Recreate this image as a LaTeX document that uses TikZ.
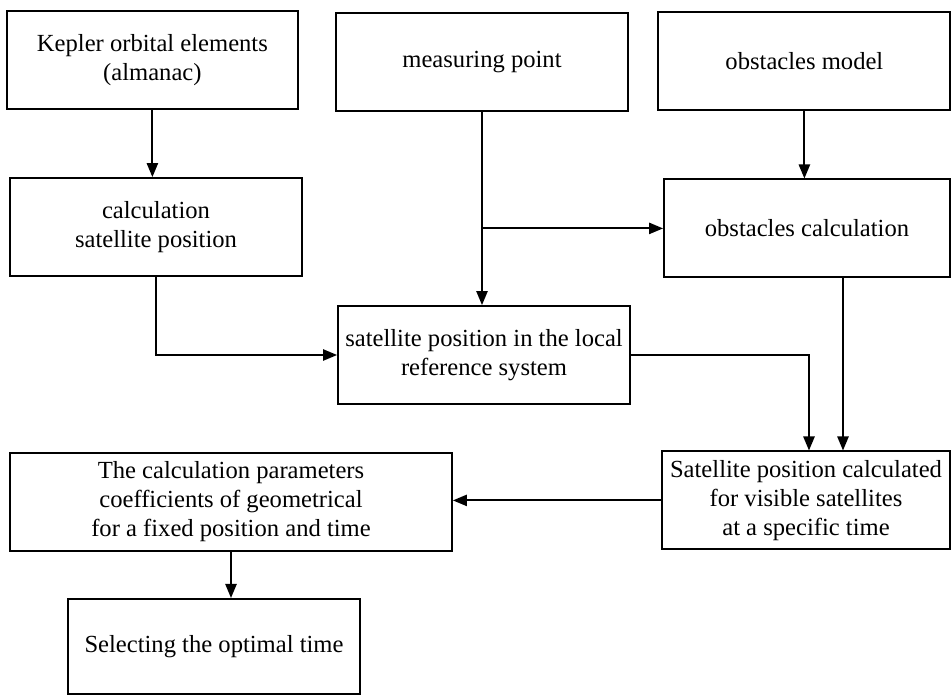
\documentclass[tikz,border=0pt]{standalone}
\usepackage{fontspec}
\setmainfont{Liberation Serif}
\usetikzlibrary{positioning,arrows.meta}

\begin{document}
\begin{tikzpicture}[block/.style={draw, line width=1.3pt, align=center, inner sep=2pt, minimum width=7.3cm, minimum height=2.45cm, font=\fontsize{17.5}{20.6}\selectfont}, link/.style={->, line width=1.3pt}, >={Triangle[length=10pt,width=8pt]}]
        \useasboundingbox (0,0) rectangle (23.8,-17.425);

        \node[block, minimum width=7.275cm] (kepler) at (3.81,-1.5) {Kepler orbital elements\\(almanac)};
        \node[block] (satcalc) at (3.9,-5.675) {calculation\\satellite position};
        \node[block] (measpoint) at (12.05,-1.54) {measuring point};
        \node[block] (obstmodel) at (20.11,-1.525) {obstacles model};
        \node[block, minimum width=7.15cm] (obstcalc) at (20.175,-5.71) {obstacles calculation};
        \node[block] (localsys) at (12.1,-8.875) {satellite position in the local\\reference system};
        \node[block, minimum width=7.2cm] (visible) at (20.15,-12.51) {Satellite position calculated\\for visible satellites\\at a specific time};
        \node[block, minimum width=11.05cm] (params) at (5.775,-12.55) {The calculation parameters\\coefficients of geometrical\\for a fixed position and time};
        \node[block, minimum height=2.375cm] (optimal) at (5.35,-16.16) {Selecting the optimal time};

        \coordinate (branch) at (measpoint.south |- obstcalc.west);
        \coordinate (drop) at ([xshift=0.9cm]obstcalc.south);

        \draw[link] (kepler.south) -- (kepler.south |- satcalc.north);
        \draw[link] (measpoint.south) -- (measpoint.south |- localsys.north);
        \draw[link] (branch) -- (obstcalc.west);
        \draw[link] (obstmodel.south) -- (obstmodel.south |- obstcalc.north);
        \draw[link] (satcalc.south) |- (localsys.west);
        \draw[link] (localsys.east) -| ([xshift=0.075cm]visible.north);
        \draw[link] (drop) -- (drop |- visible.north);
        \draw[link] (visible.west) -- (visible.west -| params.east);
        \draw[link] (params.south) -- (params.south |- optimal.north);
    \end{tikzpicture}
\end{document}
